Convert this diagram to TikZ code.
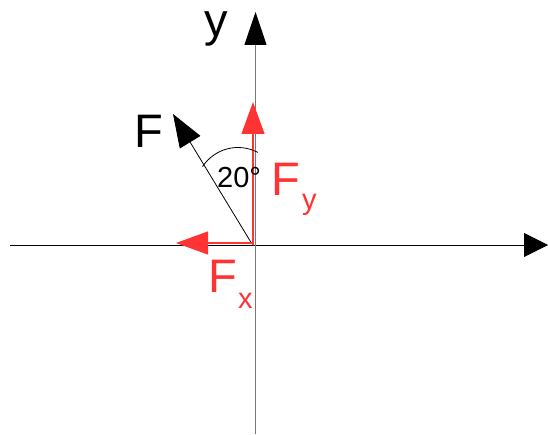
\documentclass[tikz,border=0pt]{standalone}
\usepackage{fontspec}
\setmainfont{Liberation Sans}
\usetikzlibrary{arrows.meta}
\definecolor{fred}{RGB}{255,51,51}
\definecolor{axgray}{RGB}{120,120,120}
\begin{document}
\begin{tikzpicture}[x=1pt,y=1pt,
  big/.style={inner sep=0pt, anchor=base west, font=\fontsize{47}{50}\selectfont},
  small/.style={inner sep=0pt, anchor=base west, font=\fontsize{29}{32}\selectfont},
  redvec/.style={fred, line width=1.2pt, -{Triangle[length=32pt,width=23pt]}},
  blackvec/.style={black, line width=0.8pt, -{Triangle[length=33pt,width=24pt]}}]
\useasboundingbox (0,0) rectangle (548,434);
% coordinates
\coordinate (xs) at (10,189);
\coordinate (xe) at (548,189);
\coordinate (ys) at (255.5,0);
\coordinate (ye) at (255.5,422);
\coordinate (Oy) at (253,189);
\coordinate (Fyt) at (253,332);
\coordinate (Ox) at (253,191);
\coordinate (Fxt) at (176,191);
\coordinate (Of) at (252,190);
\coordinate (Ft) at (173,320);
\coordinate (ac) at (238,244);
% axes
\draw[line width=0.8pt, -{Triangle[length=24pt,width=24pt]}] (xs) -- (xe);
\draw[axgray, line width=1.2pt, -{Triangle[length=33pt,width=22pt,color=black]}] (ys) -- (ye);
% vectors
\draw[blackvec] (Of) -- (Ft);
\draw[redvec] (Oy) -- (Fyt);
\draw[redvec] (Ox) -- (Fxt);
% angle arc
\draw[line width=0.8pt] (ac) ++(146.7:42.5) arc[start angle=146.7, end angle=62.2, radius=42.5];
% labels
\node[big] (ly) at (204,397) {y};
\node[big] (lF) at (134,286) {F};
\node[big, fred] (lFy) at (271,238) {F};
\node[small, fred] (lFys) at (302,224) {y};
\node[big, fred] (lFx) at (208,142) {F};
\node[small, fred] (lFxs) at (238,126) {x};
\node[small] (lang) at (217,246) {20°};
\end{tikzpicture}
\end{document}
